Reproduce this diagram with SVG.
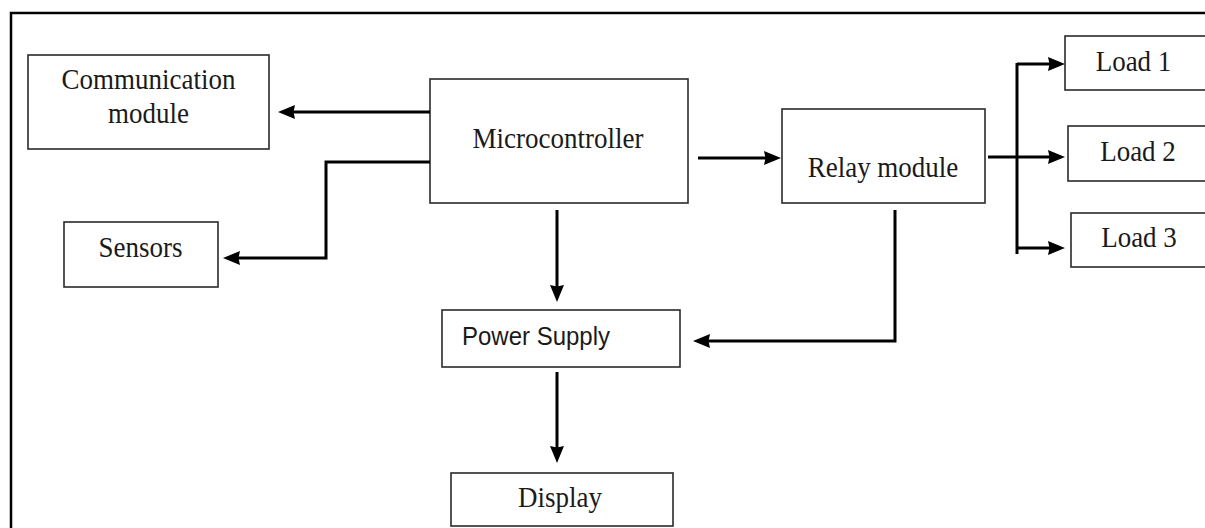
<svg xmlns="http://www.w3.org/2000/svg" width="1205" height="528" viewBox="0 0 1205 528">
<style>
.box{fill:#fff;stroke:#2a2a2a;stroke-width:1.6}
.t{font-family:"Liberation Serif","Times New Roman",serif;font-size:27px;fill:#1a1a1a;text-anchor:middle}
.s{font-family:"Liberation Sans",Arial,sans-serif;font-size:24px;fill:#1a1a1a}
.c{fill:none;stroke:#000;stroke-width:3}
.frame{fill:none;stroke:#000;stroke-width:2.5}
</style>
<defs>
<marker id="ah" markerUnits="userSpaceOnUse" markerWidth="18" markerHeight="15" refX="8" refY="7" orient="auto">
<path d="M0,0 L17,7 L0,14 L1.5,7 z" fill="#000"/>
</marker>
</defs>
<rect width="1205" height="528" fill="#fff"/>
<path class="frame" d="M11,528 V13 H1205"/>
<g id="communication"><rect class="box" x="28" y="55" width="241" height="94"/><text class="t" transform="translate(148.5 89) scale(1 1.12)">Communication</text><text class="t" transform="translate(148.5 123) scale(1 1.12)">module</text></g>
<g id="sensors"><rect class="box" x="64" y="222" width="154" height="65"/><text class="t" transform="translate(140.5 257) scale(1 1.12)">Sensors</text></g>
<g id="microcontroller"><rect class="box" x="430" y="79" width="258" height="124"/><text class="t" transform="translate(558 148) scale(1 1.12)">Microcontroller</text></g>
<g id="relay"><rect class="box" x="782" y="109" width="203" height="94"/><text class="t" transform="translate(883 177) scale(1 1.12)">Relay module</text></g>
<g id="power"><rect class="box" x="442" y="310" width="238" height="57"/><text class="s" transform="translate(462 345) scale(1 1.05)">Power Supply</text></g>
<g id="display"><rect class="box" x="451" y="473" width="222" height="53"/><text class="t" transform="translate(560 507) scale(1 1.12)">Display</text></g>
<g id="load1"><rect class="box" x="1065" y="36" width="160" height="54"/><text class="t" transform="translate(1133.5 71) scale(1 1.12)">Load 1</text></g>
<g id="load2"><rect class="box" x="1068" y="126" width="160" height="55"/><text class="t" transform="translate(1138 161) scale(1 1.12)">Load 2</text></g>
<g id="load3"><rect class="box" x="1071" y="213" width="160" height="54"/><text class="t" transform="translate(1139 247) scale(1 1.12)">Load 3</text></g>
<g id="connectors">
<path class="c" marker-end="url(#ah)" d="M430,112 H287"/>
<path class="c" marker-end="url(#ah)" d="M430,162 H326 V258 H232"/>
<path class="c" marker-end="url(#ah)" d="M698,158 H772"/>
<path class="c" marker-end="url(#ah)" d="M557,210 V293"/>
<path class="c" marker-end="url(#ah)" d="M895,210 V341 H702"/>
<path class="c" marker-end="url(#ah)" d="M557,372 V454"/>
<path class="c" marker-end="url(#ah)" d="M988,157 H1056"/>
<path class="c" d="M1017,63 V254"/>
<path class="c" marker-end="url(#ah)" d="M1017,64 H1056"/>
<path class="c" marker-end="url(#ah)" d="M1017,248 H1056"/>
</g>
</svg>
